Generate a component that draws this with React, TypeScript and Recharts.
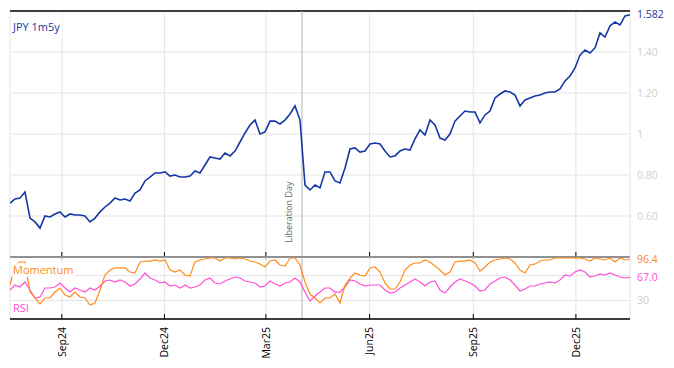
import React from 'react';
import { LineChart, Line, XAxis, YAxis, CartesianGrid, ReferenceLine } from 'recharts';

const FONT = '"Open Sans", "Noto Sans", sans-serif';
const BLUE = '#1538a6';
const ORANGE = '#ff8c1a';
const MAGENTA = '#ff4fd6';
const GRID = '#e4e4e4';

const START_DATE = '2024-07-17';
const END_DATE = '2026-01-18';
const seriesName = 'JPY 1m5y';

const jpy = [
  0.663, 0.683, 0.688, 0.717, 0.590, 0.571, 0.541, 0.600, 0.595, 0.610,
  0.620, 0.595, 0.610, 0.605, 0.605, 0.600, 0.571, 0.590, 0.620, 0.644,
  0.663, 0.688, 0.678, 0.683, 0.673, 0.712, 0.727, 0.771, 0.790, 0.810,
  0.810, 0.815, 0.795, 0.800, 0.790, 0.790, 0.795, 0.820, 0.810, 0.849,
  0.888, 0.883, 0.878, 0.907, 0.893, 0.917, 0.961, 1.005, 1.044, 1.068,
  1.000, 1.010, 1.063, 1.063, 1.049, 1.068, 1.098, 1.137, 1.068, 0.751,
  0.727, 0.751, 0.737, 0.815, 0.815, 0.771, 0.761, 0.834, 0.927, 0.932,
  0.912, 0.917, 0.951, 0.956, 0.951, 0.917, 0.888, 0.893, 0.917, 0.927,
  0.922, 0.976, 1.020, 0.995, 1.068, 1.044, 0.980, 0.971, 1.000, 1.063,
  1.088, 1.112, 1.107, 1.107, 1.054, 1.093, 1.112, 1.176, 1.195, 1.210,
  1.205, 1.190, 1.137, 1.166, 1.176, 1.185, 1.190, 1.200, 1.205, 1.205,
  1.220, 1.259, 1.283, 1.322, 1.385, 1.410, 1.395, 1.420, 1.493, 1.473,
  1.527, 1.546, 1.532, 1.576, 1.582,
];

const momentum = [
  54.8, 87.1, 91.9, 91.9, 43.5, 33.9, 24.2, 33.9, 33.9, 43.5,
  50.0, 38.7, 35.5, 43.5, 35.5, 33.9, 22.6, 25.8, 46.8, 71.0,
  79.0, 82.3, 82.3, 82.3, 75.8, 74.2, 91.9, 93.5, 93.5, 95.2,
  93.5, 95.2, 79.0, 75.8, 79.0, 71.0, 69.4, 91.9, 95.2, 96.8,
  98.4, 98.4, 93.5, 98.4, 98.4, 96.8, 98.4, 96.8, 93.5, 91.9,
  88.7, 83.9, 93.5, 95.2, 87.1, 85.5, 98.4, 98.4, 87.1, 59.7,
  40.3, 33.9, 25.8, 33.9, 33.9, 40.3, 25.8, 54.8, 66.1, 74.2,
  71.0, 69.4, 82.3, 83.9, 75.8, 58.1, 48.4, 48.4, 59.7, 79.0,
  87.1, 90.3, 90.3, 95.2, 91.9, 85.5, 79.0, 71.0, 75.8, 91.9,
  93.5, 93.5, 95.2, 90.3, 77.4, 83.9, 91.9, 95.2, 96.8, 98.4,
  96.8, 90.3, 79.0, 74.2, 87.1, 88.7, 93.5, 95.2, 95.2, 98.4,
  98.4, 98.4, 98.4, 98.4, 98.4, 96.8, 93.5, 98.4, 96.8, 95.2,
  98.4, 91.9, 98.4, 95.2, 96.4,
];

const rsi = [
  46.8, 54.8, 51.6, 59.7, 46.8, 33.9, 35.5, 50.0, 50.0, 51.6,
  58.1, 50.0, 43.5, 50.0, 46.8, 43.5, 50.0, 46.8, 53.2, 61.3,
  62.9, 59.7, 62.9, 59.7, 53.2, 56.5, 64.5, 74.2, 66.1, 62.9,
  58.1, 59.7, 53.2, 54.8, 50.0, 54.8, 50.0, 51.6, 54.8, 62.9,
  66.1, 58.1, 56.5, 61.3, 64.5, 67.7, 66.1, 61.3, 59.7, 58.1,
  51.6, 53.2, 61.3, 56.5, 53.2, 58.1, 59.7, 66.1, 59.7, 43.5,
  29.0, 37.1, 43.5, 50.0, 50.0, 43.5, 43.5, 51.6, 62.9, 61.3,
  56.5, 53.2, 54.8, 54.8, 54.8, 46.8, 41.9, 43.5, 50.0, 54.8,
  59.7, 64.5, 59.7, 53.2, 59.7, 61.3, 46.8, 41.9, 51.6, 59.7,
  64.5, 61.3, 58.1, 53.2, 45.2, 46.8, 56.5, 61.3, 66.1, 67.7,
  62.9, 54.8, 45.2, 48.4, 53.2, 53.2, 56.5, 58.1, 59.7, 58.1,
  62.9, 71.0, 69.4, 75.8, 79.0, 75.8, 67.7, 69.4, 72.6, 71.0,
  74.2, 71.0, 67.7, 66.1, 67.0,
];

const tickDates = ['2024-09-01', '2024-12-01', '2025-03-01', '2025-06-01', '2025-09-01', '2025-12-01'];
const tickLabels = ['Sep24', 'Dec24', 'Mar25', 'Jun25', 'Sep25', 'Dec25'];
const eventDate = '2025-04-02';
const eventLabel = 'Liberation Day';

const priceTicks = [0.6, 0.8, 1.0, 1.2, 1.4];
const oscTicks = [30, 70];

const START = Date.parse(START_DATE);
const END = Date.parse(END_DATE);
const tickTimes = tickDates.map((d) => Date.parse(d));
const EVENT = Date.parse(eventDate);

const data = jpy.map((v, i) => ({
  t: START + (i * (END - START)) / (jpy.length - 1),
  jpy: v,
  mom: momentum[i],
  rsi: rsi[i],
}));

const lastJpy = jpy[jpy.length - 1];
const lastMom = momentum[momentum.length - 1];
const lastRsi = rsi[rsi.length - 1];

const TopTick = (props: any) => {
  const { x, y } = props;
  return <line x1={x} y1={y} x2={x} y2={y - 7} stroke="#000" strokeWidth={1} />;
};

const BottomTick = (props: any) => {
  const { x, y, payload } = props;
  const idx = tickTimes.indexOf(payload.value);
  const ty = y + 8;
  return (
    <g>
      <line x1={x} y1={y} x2={x} y2={y - 5} stroke="#000" strokeWidth={1} />
      <text
        x={x}
        y={ty}
        transform={`rotate(-90, ${x}, ${ty})`}
        textAnchor="end"
        dy="0.35em"
        fontSize={10.5}
        fill="#000"
        fontFamily={FONT}
      >
        {tickLabels[idx]}
      </text>
    </g>
  );
};

const OscTick = (props: any) => {
  const { x, y, payload } = props;
  if (payload.value !== 30) return <g />;
  return (
    <text x={x} y={y} dy="0.35em" textAnchor="start" fontSize={10.5} fill="#cfcfcf" fontFamily={FONT}>
      {payload.value}
    </text>
  );
};

const libLabel = (props: any) => {
  const vb = props.viewBox;
  const x = vb.x - 10;
  const y = vb.y + vb.height - 45;
  return (
    <text x={x} y={y} transform={`rotate(-90, ${x}, ${y})`} textAnchor="middle" fontSize={9} fill="#666" fontFamily={FONT}>
      {eventLabel}
    </text>
  );
};

export default function App() {
  return (
    <div style={{ position: 'absolute', left: 0, top: 0, width: 674, height: 368, background: '#fff' }}>
      <div style={{ position: 'absolute', left: 0, top: 0 }}>
        <LineChart width={674} height={260} data={data} margin={{ top: 11, right: 0, left: 10, bottom: 2 }}>
          <CartesianGrid stroke={GRID} strokeWidth={1} />
          <XAxis
            dataKey="t"
            type="number"
            domain={[START, END]}
            ticks={tickTimes}
            interval={0}
            allowDataOverflow
            height={1}
            tickSize={0}
            tickLine={false}
            tick={TopTick}
            axisLine={{ stroke: '#000', strokeWidth: 1.5 }}
          />
          <YAxis
            orientation="right"
            domain={[0.4, 1.6]}
            ticks={priceTicks}
            interval={0}
            width={44}
            axisLine={false}
            tickLine={false}
            tickSize={0}
            tickMargin={7}
            tick={{ fill: '#cfcfcf', fontSize: 10.5, fontFamily: FONT }}
            tickFormatter={(v: number) => (v === 1 ? '1' : v.toFixed(2))}
          />
          <ReferenceLine y={1.6} stroke="#000" strokeWidth={1.5} />
          <ReferenceLine x={EVENT} stroke="#b3b3b3" strokeWidth={1} label={libLabel} />
          <ReferenceLine
            y={lastJpy}
            stroke="none"
            label={{ value: lastJpy.toFixed(3), position: 'right', offset: 7, fill: BLUE, fontSize: 10.5, fontFamily: FONT }}
          />
          <Line type="linear" dataKey="jpy" stroke={BLUE} strokeWidth={1.6} dot={false} isAnimationActive={false} />
        </LineChart>
      </div>
      <div style={{ position: 'absolute', left: 0, top: 247 }}>
        <LineChart width={674} height={121} data={data} margin={{ top: 10, right: 0, left: 10, bottom: 0 }}>
          <CartesianGrid stroke={GRID} strokeWidth={1} />
          <XAxis
            dataKey="t"
            type="number"
            domain={[START, END]}
            ticks={tickTimes}
            interval={0}
            allowDataOverflow
            height={49}
            tickSize={0}
            tickMargin={0}
            tickLine={false}
            tick={BottomTick}
            axisLine={{ stroke: '#000', strokeWidth: 1.5 }}
          />
          <YAxis
            orientation="right"
            domain={[0, 100]}
            ticks={oscTicks}
            interval={0}
            width={44}
            axisLine={false}
            tickLine={false}
            tickSize={0}
            tickMargin={7}
            tick={OscTick}
          />
          <ReferenceLine x={EVENT} stroke="#b3b3b3" strokeWidth={1} />
          <ReferenceLine
            y={lastMom}
            stroke="none"
            label={{ value: lastMom.toFixed(1), position: 'right', offset: 7, fill: ORANGE, fontSize: 10.5, fontFamily: FONT }}
          />
          <ReferenceLine
            y={lastRsi}
            stroke="none"
            label={{ value: lastRsi.toFixed(1), position: 'right', offset: 7, fill: MAGENTA, fontSize: 10.5, fontFamily: FONT }}
          />
          <Line type="linear" dataKey="rsi" stroke={MAGENTA} strokeWidth={1.2} dot={false} isAnimationActive={false} />
          <Line type="linear" dataKey="mom" stroke={ORANGE} strokeWidth={1.2} dot={false} isAnimationActive={false} />
        </LineChart>
      </div>
      <svg width={674} height={368} style={{ position: 'absolute', left: 0, top: 0, pointerEvents: 'none' }}>
        <rect x={11} y={13} width={51} height={25} fill="#fff" />
        <text x={13} y={31} fontSize={11} fill={BLUE} fontFamily={FONT}>{seriesName}</text>
        <rect x={11} y={263} width={64} height={14} fill="#fff" fillOpacity={0.8} />
        <text x={13} y={274} fontSize={11} fill={ORANGE} fontFamily={FONT}>Momentum</text>
        <rect x={11} y={301} width={20} height={14} fill="#fff" fillOpacity={0.8} />
        <text x={13} y={312} fontSize={11} fill={MAGENTA} fontFamily={FONT}>RSI</text>
      </svg>
    </div>
  );
}
